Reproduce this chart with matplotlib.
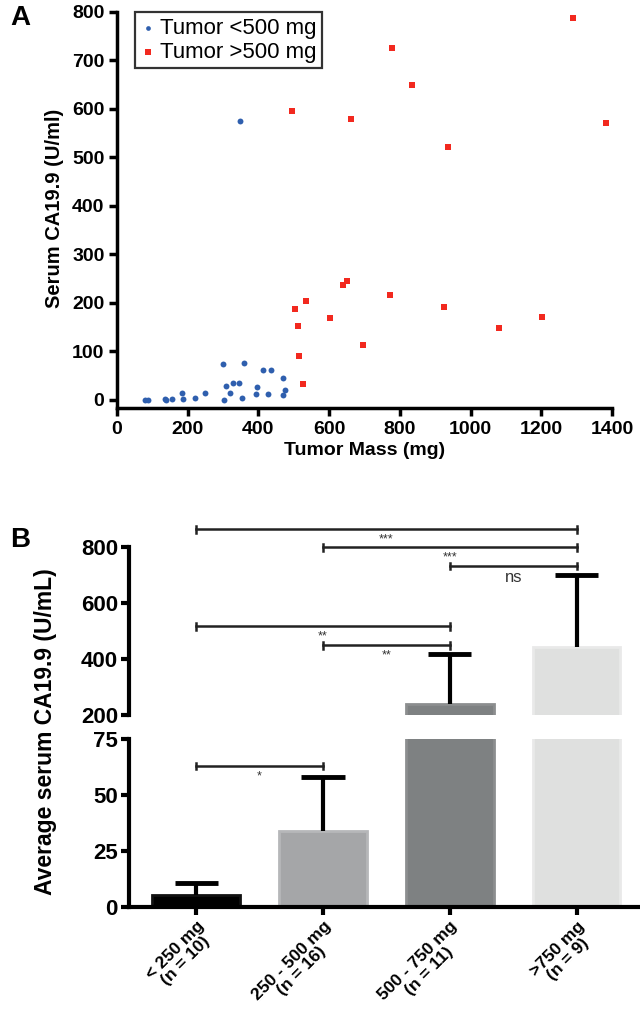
import matplotlib
matplotlib.use("Agg")
import matplotlib.pyplot as plt

plt.rcParams["font.family"] = ["Liberation Sans", "DejaVu Sans"]

# ----------------- DATA -----------------
# panel A: tumor mass (mg) vs serum CA19.9 (U/ml)
small_mass = [79, 89, 136, 139, 155, 184, 188, 221, 248, 299, 303, 308, 320,
              327, 346, 353, 358, 393, 395, 414, 428, 436, 469, 469, 476, 348]
small_ca = [0, 1, 2, 0, 3, 14, 3, 5, 15, 75, 0, 29, 15,
            35, 35, 5, 77, 12, 27, 62, 13, 62, 46, 10, 20, 576]
large_mass = [496, 661, 777, 834, 937, 1290, 1384, 503, 513, 535, 603, 640,
              651, 772, 926, 515, 525, 697, 1079, 1203]
large_ca = [596, 579, 725, 649, 522, 788, 570, 188, 153, 205, 170, 238,
            245, 216, 192, 91, 34, 113, 149, 171]

# panel B: mean serum CA19.9 by mass group
groups = ["< 250 mg\n(n = 10)", "250 - 500 mg\n(n = 16)",
          "500 - 750 mg\n(n = 11)", ">750 mg\n(n = 9)"]
means = [5.5, 34, 239, 443]
errs = [5.2, 24, 180, 257]
bar_colors = ["#000000", "#a5a6a8", "#7e8182", "#dfe0df"]
edge_colors = ["#111111", "#b6b7b9", "#8c8e8f", "#e9e9e9"]

# significance brackets: (from group, to group, height, label)
sig_upper = [(0, 3, 864, "***"), (1, 3, 800, "***"), (2, 3, 733, "ns"),
             (0, 2, 517, "**"), (1, 2, 449, "**")]
sig_lower = [(0, 1, 63, "*")]

fig = plt.figure(figsize=(6.4, 10.22), dpi=100)
H = 1022.0
narrow = ["Liberation Sans Narrow", "Liberation Sans", "DejaVu Sans"]

# ----------------- PANEL A -----------------
axA = fig.add_axes([117 / 640, 1 - 408 / H, 495 / 640, 400 / H])
axA.scatter(small_mass, small_ca, s=18, color="#2f5fae", marker="o",
            linewidths=0, label="Tumor <500 mg", zorder=3)
axA.scatter(large_mass, large_ca, s=24, color="#f2291f", marker="s",
            linewidths=0, label="Tumor >500 mg", zorder=3)
axA.set_xlim(0, 1400)
axA.set_ylim(-16.5, 808)
axA.set_xticks(range(0, 1401, 200))
axA.set_yticks(range(0, 801, 100))
for side in ["top", "right"]:
    axA.spines[side].set_visible(False)
for side in ["left", "bottom"]:
    axA.spines[side].set_linewidth(2.5)
axA.spines["left"].set_bounds(-16.5, 800)
axA.tick_params(width=2.5, length=6, labelsize=14, pad=3)
for t in axA.get_xticklabels() + axA.get_yticklabels():
    t.set_fontweight("bold")
axA.set_xlabel("Tumor Mass (mg)", fontsize=14, fontweight="bold", labelpad=3)
axA.set_ylabel("Serum CA19.9 (U/ml)", fontsize=14.5, fontweight="bold", labelpad=6)
leg = axA.legend(loc="upper left", bbox_to_anchor=(0.036, 0.99), borderaxespad=0,
                 fontsize=16, handletextpad=0.2, handlelength=0.7,
                 markerscale=0.8, fancybox=False, borderpad=0.25, labelspacing=0.15)
leg.get_frame().set_edgecolor("black")
leg.get_frame().set_linewidth(1.6)
fig.text(10 / 640, 1 - 18 / H, "A", fontsize=20, fontweight="bold", va="center")

# ----------------- PANEL B (broken axis) -----------------
xl = (-0.53, 3.5)
axU = fig.add_axes([129 / 640, 1 - 715 / H, 511 / 640, 195 / H])
axL = fig.add_axes([129 / 640, 1 - 907.3 / H, 511 / 640, 168.3 / H])
x = list(range(len(groups)))
tops = [m + e for m, e in zip(means, errs)]

for ax in (axU, axL):
    ax.bar(x, means, width=0.69, color=bar_colors, edgecolor=edge_colors,
           linewidth=2, zorder=2)
    # upper-only error bars with a cap at the top
    ax.vlines(x, means, tops, color="black", lw=3, zorder=3)
    ax.hlines(tops, [i - 0.17 for i in x], [i + 0.17 for i in x],
              color="black", lw=3.5, zorder=3)
    ax.set_xlim(*xl)
    ax.spines["top"].set_visible(False)
    ax.spines["right"].set_visible(False)
    ax.spines["left"].set_linewidth(3)
    ax.tick_params(width=3, length=6, pad=2)

axU.set_ylim(200, 897.7)
axU.set_yticks([200, 400, 600, 800])
axU.spines["left"].set_bounds(200, 800)
axU.spines["bottom"].set_visible(False)
axU.set_xticks([])

axL.set_ylim(0, 75)
axL.set_yticks([0, 25, 50, 75])
axL.spines["bottom"].set_linewidth(3)
axL.set_xticks(x)
axL.set_xticklabels(groups, rotation=45, ha="right", rotation_mode="anchor",
                    multialignment="center", fontsize=12.5, fontweight="bold",
                    linespacing=1.0)
axL.tick_params(axis="x", pad=2)

for ax in (axU, axL):
    for t in ax.get_yticklabels():
        t.set_fontweight("bold")
        t.set_family(narrow)
        t.set_fontsize(16)


def bracket(ax, a, b, y, label, dy):
    ax.plot([a, b], [y, y], color="#222222", lw=1.8, zorder=4, clip_on=False)
    for xx in (a, b):
        ax.plot([xx, xx], [y - dy, y + dy], color="#222222", lw=1.8,
                zorder=4, clip_on=False)
    ax.text((a + b) / 2, y - dy * 1.2, label, ha="center", va="top",
            fontsize=12 if label == "ns" else 9, color="#333333", zorder=4,
            family=narrow)


for a, b, y, lab in sig_upper:
    bracket(axU, a, b, y, lab, 12)
for a, b, y, lab in sig_lower:
    bracket(axL, a, b, y, lab, 1.5)

fig.text(46 / 640, 1 - 732 / H, "Average serum CA19.9 (U/mL)", rotation=90,
         ha="center", va="center", fontsize=16.5, fontweight="bold")
fig.text(10 / 640, 1 - 540 / H, "B", fontsize=20, fontweight="bold", va="center")

fig.savefig("out.png", dpi=100)
